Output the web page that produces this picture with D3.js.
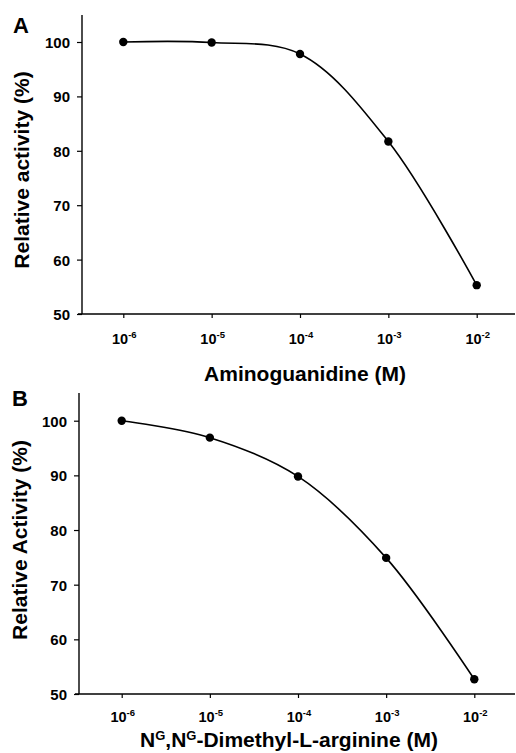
<!DOCTYPE html>
<html>
<head>
<meta charset="utf-8">
<script src="https://cdn.jsdelivr.net/npm/d3@7"></script>
<style>
  html, body { margin: 0; padding: 0; background: #fff; }
  svg { display: block; }
  text { font-family: "Liberation Sans", Arial, sans-serif; font-weight: bold; fill: #000; }
</style>
</head>
<body>
<svg id="chart" width="516" height="753"></svg>
<script>
// ---- data ----
const concentrations = [1e-6, 1e-5, 1e-4, 1e-3, 1e-2];
const tickExponents = ["-6", "-5", "-4", "-3", "-2"];
const yTicks = [50, 60, 70, 80, 90, 100];
const aminoguanidine = [100, 99.9, 97.8, 81.7, 55.3];
const dimethylArginine = [100, 96.9, 89.8, 74.9, 52.7];
const panelLabels = ["A", "B"];
const yTitles = ["Relative activity (%)", "Relative Activity (%)"];
const xTitleA = "Aminoguanidine (M)";

const svg = d3.select("#chart");

const panels = [
  { label: panelLabels[0], values: aminoguanidine, yTitle: yTitles[0],
    axisX: 82, axisTop: 15, y100: 42, y50: 314, xLeft: 123.3, xRight: 476.7,
    xEnd: 515, tickLabelY: 344, labelX: 13, labelY: 33,
    yTitleX: 28.5, yTitleY: 170 },
  { label: panelLabels[1], values: dimethylArginine, yTitle: yTitles[1],
    axisX: 79, axisTop: 393, y100: 420.7, y50: 694, xLeft: 121.7, xRight: 474.3,
    xEnd: 515, tickLabelY: 722, labelX: 12, labelY: 406,
    yTitleX: 26.5, yTitleY: 540 }
];

panels.forEach(p => {
  const g = svg.append("g");
  const x = d3.scaleLog().domain([1e-6, 1e-2]).range([p.xLeft, p.xRight]);
  const y = d3.scaleLinear().domain([50, 100]).range([p.y50, p.y100]);

  // y axis
  const yAx = g.append("g").attr("transform", `translate(${p.axisX},0)`)
    .call(d3.axisLeft(y).tickValues(yTicks).tickSize(5).tickPadding(7).tickFormat(d3.format("d")));
  yAx.select(".domain").remove();
  yAx.selectAll(".tick line").attr("stroke", "#000").attr("stroke-width", 1.2);
  yAx.selectAll(".tick text").style("font-size", "15px").attr("dy", "0.36em");
  g.append("line").attr("x1", p.axisX).attr("x2", p.axisX).attr("y1", p.axisTop).attr("y2", p.y50)
    .attr("stroke", "#000").attr("stroke-width", 1.4);

  // x axis
  const xAx = g.append("g").attr("transform", `translate(0,${p.y50})`)
    .call(d3.axisBottom(x).tickValues(concentrations).tickSize(4).tickFormat(() => ""));
  xAx.select(".domain").remove();
  xAx.selectAll(".tick line").attr("stroke", "#000").attr("stroke-width", 1.2);
  g.append("line").attr("x1", p.axisX - 4).attr("x2", p.xEnd).attr("y1", p.y50).attr("y2", p.y50)
    .attr("stroke", "#000").attr("stroke-width", 1.4);

  // tick labels with superscripts
  concentrations.forEach((c, i) => {
    const t = g.append("text").attr("x", x(c) + 1).attr("y", p.tickLabelY)
      .attr("text-anchor", "middle").style("font-size", "14.5px");
    t.append("tspan").text("10");
    t.append("tspan").attr("dy", -6).style("font-size", "9.5px").text(tickExponents[i]);
  });

  // curve
  const pts = concentrations.map((c, i) => [x(c), y(p.values[i])]);
  g.append("path").datum(pts)
    .attr("d", d3.line().curve(d3.curveCatmullRom.alpha(0.5)))
    .attr("fill", "none").attr("stroke", "#000").attr("stroke-width", 1.6);

  g.selectAll("circle.pt").data(pts).enter().append("circle")
    .attr("cx", d => d[0]).attr("cy", d => d[1]).attr("r", 4.2).attr("fill", "#000");

  // panel label
  g.append("text").attr("x", p.labelX).attr("y", p.labelY).style("font-size", "22px").text(p.label);

  // y title
  g.append("text").attr("transform", `translate(${p.yTitleX},${p.yTitleY}) rotate(-90)`)
    .attr("text-anchor", "middle").style("font-size", "21px").text(p.yTitle);
});

// x titles
svg.append("text").attr("x", 305).attr("y", 381)
  .attr("text-anchor", "middle").style("font-size", "21px").text(xTitleA);

const tB = svg.append("text").attr("x", 289).attr("y", 747)
  .attr("text-anchor", "middle").style("font-size", "21px");
tB.append("tspan").text("N");
tB.append("tspan").attr("dy", -7).style("font-size", "13px").text("G");
tB.append("tspan").attr("dy", 7).text(",N");
tB.append("tspan").attr("dy", -7).style("font-size", "13px").text("G");
tB.append("tspan").attr("dy", 7).text("-Dimethyl-L-arginine (M)");
</script>
</body>
</html>
